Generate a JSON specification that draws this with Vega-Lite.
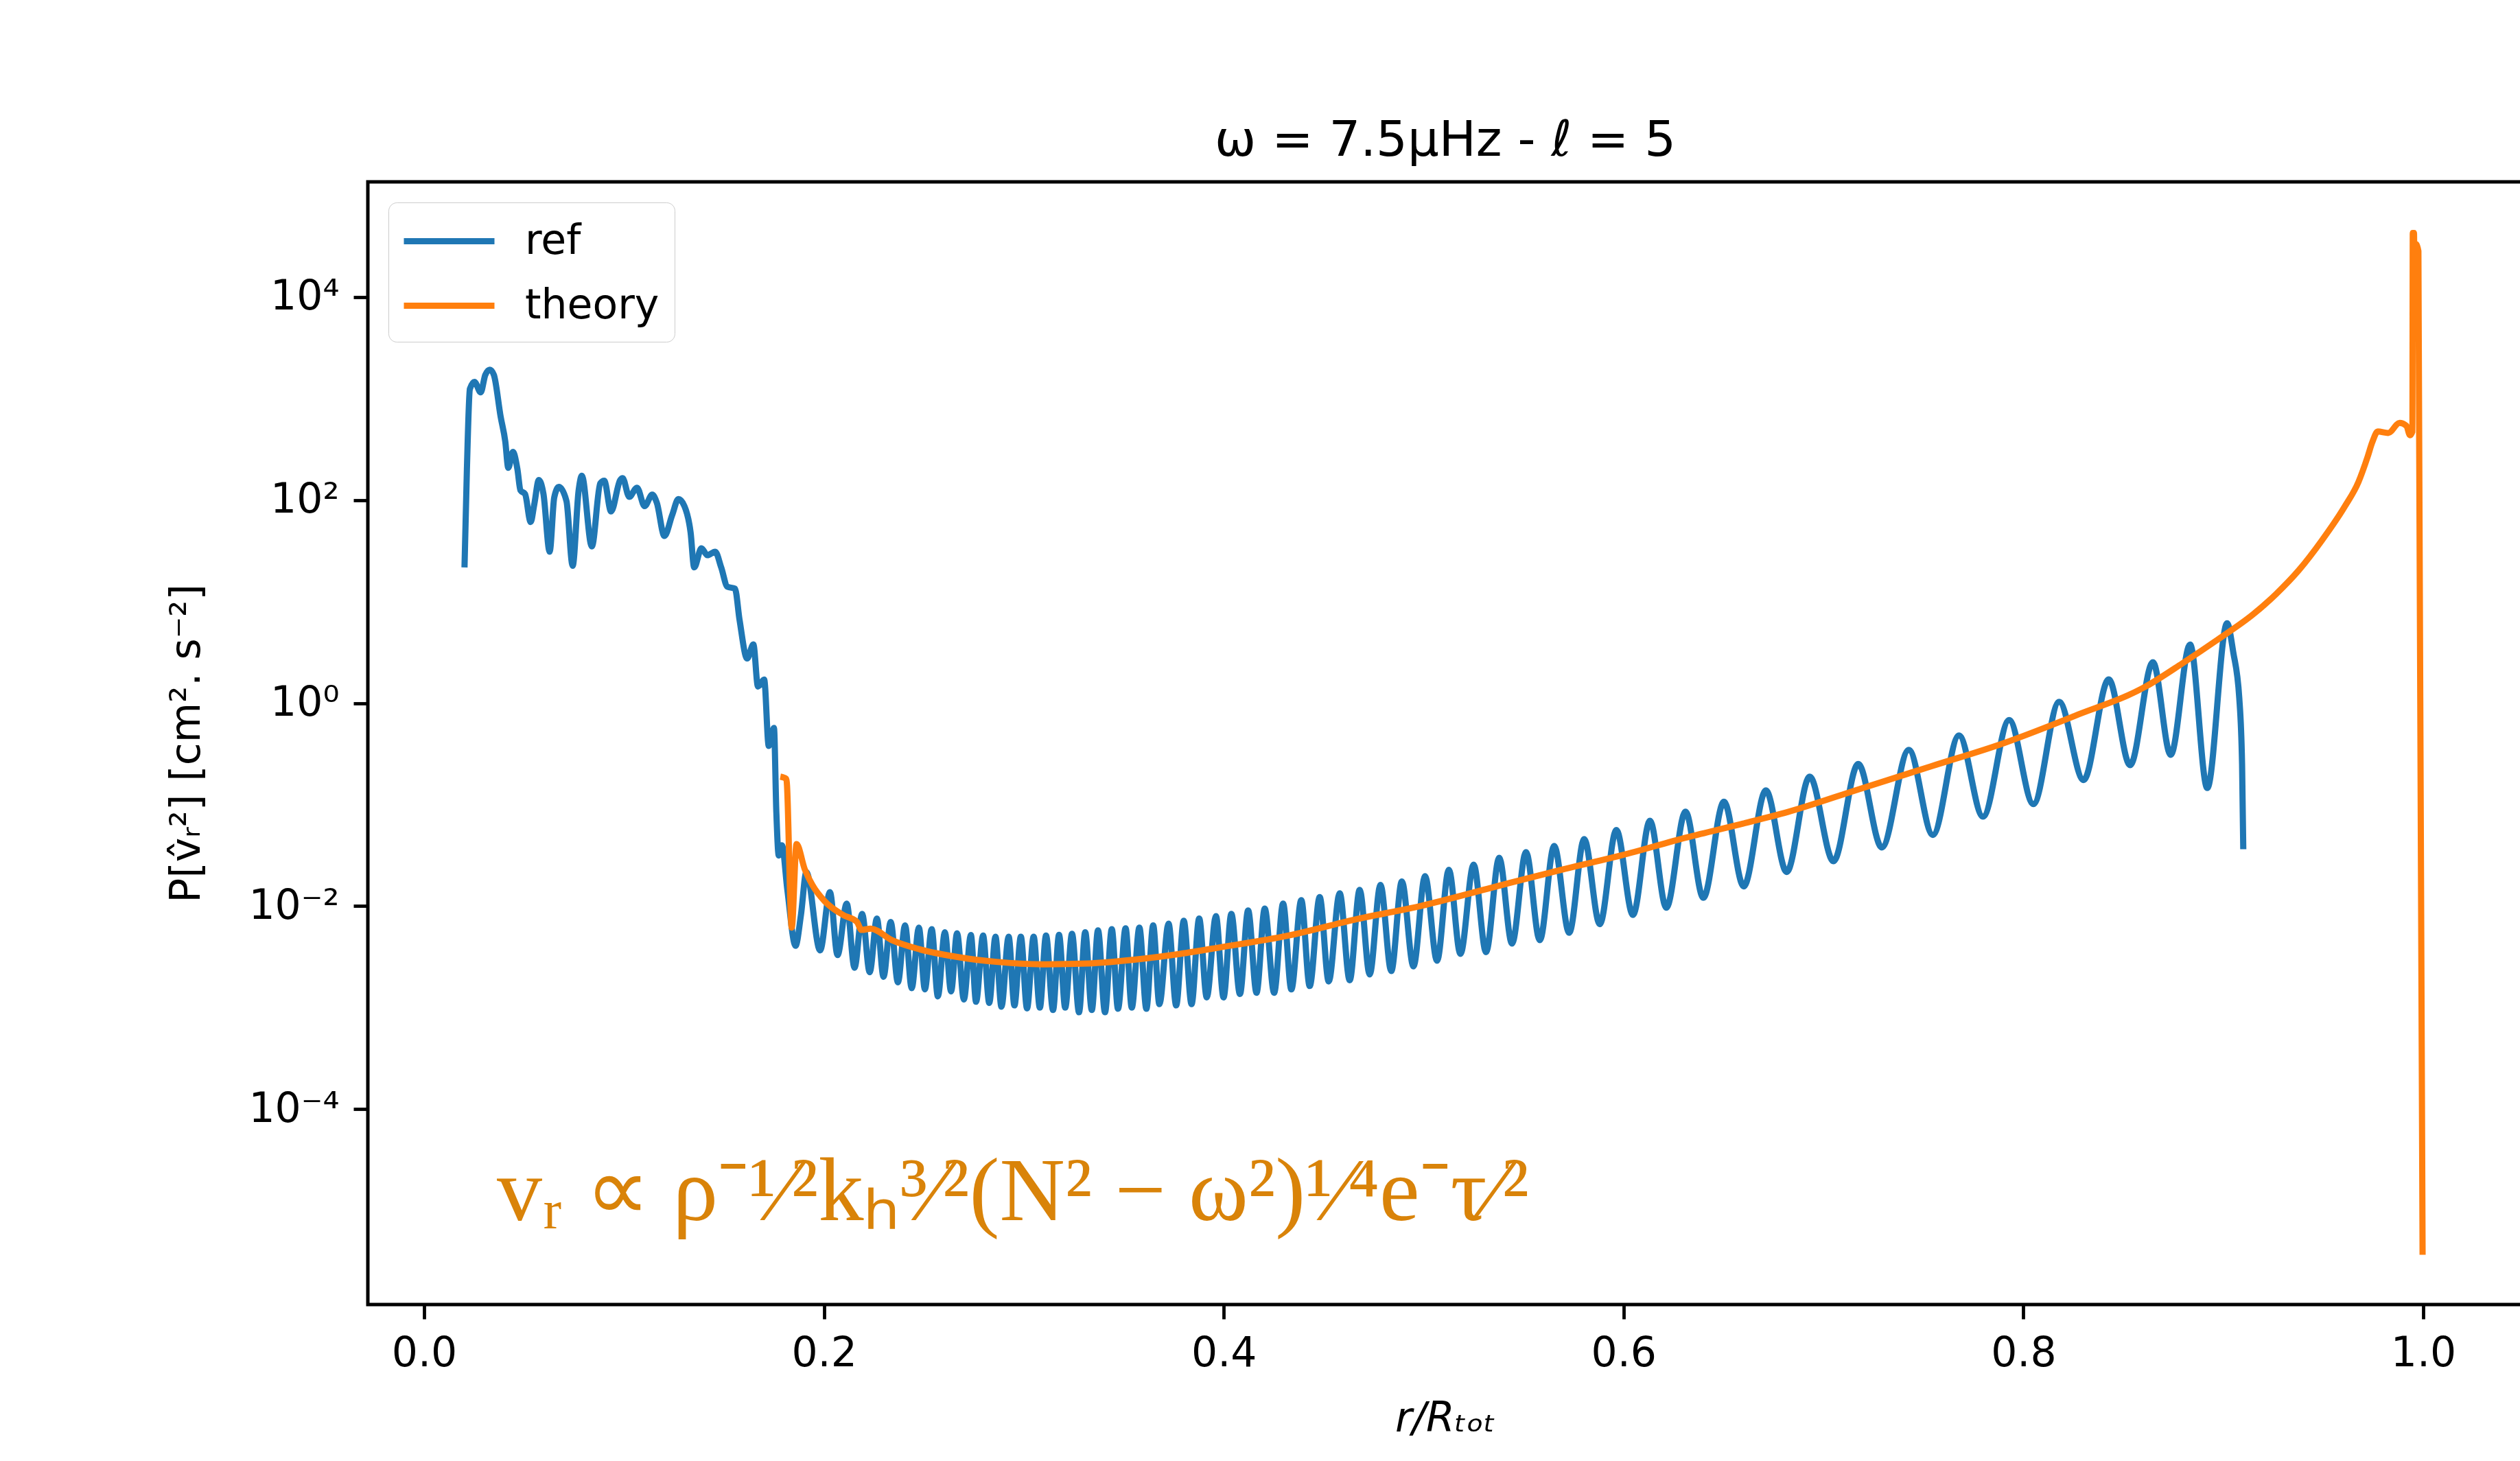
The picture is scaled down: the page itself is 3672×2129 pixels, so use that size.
{
  "$schema": "https://vega.github.io/schema/vega-lite/v6.json",
  "width": 3140,
  "height": 1636,
  "autosize": {"type": "none"},
  "padding": {"left": 536, "top": 265, "right": 0, "bottom": 228},
  "background": "white",
  "config": {
    "font": "DejaVu Sans",
    "view": {"stroke": "black", "strokeWidth": 5},
    "axis": {
      "grid": false,
      "domain": false,
      "tickColor": "black",
      "tickWidth": 4.8,
      "tickSize": 21,
      "labelFontSize": 60,
      "labelColor": "black",
      "labelFont": "DejaVu Sans",
      "labelPadding": 21,
      "titleFont": "DejaVu Sans",
      "titleFontSize": 60,
      "titleFontWeight": "normal",
      "titleColor": "black"
    }
  },
  "title": {
    "text": "ω = 7.5μHz - ℓ = 5",
    "font": "DejaVu Sans",
    "fontSize": 72,
    "fontWeight": "normal",
    "color": "black",
    "anchor": "middle",
    "baseline": "alphabetic",
    "offset": -34
  },
  "datasets": {
    "curves": [
      {"series": "ref", "r": 0.0202, "P": 21.7},
      {"series": "ref", "r": 0.0214, "P": 200},
      {"series": "ref", "r": 0.0229, "P": 1245},
      {"series": "ref", "r": 0.0252, "P": 1459},
      {"series": "ref", "r": 0.0283, "P": 1151},
      {"series": "ref", "r": 0.0306, "P": 1710},
      {"series": "ref", "r": 0.0329, "P": 1928},
      {"series": "ref", "r": 0.0349, "P": 1710},
      {"series": "ref", "r": 0.0383, "P": 659},
      {"series": "ref", "r": 0.0406, "P": 378},
      {"series": "ref", "r": 0.0421, "P": 208},
      {"series": "ref", "r": 0.0444, "P": 298},
      {"series": "ref", "r": 0.0467, "P": 200},
      {"series": "ref", "r": 0.0482, "P": 124.5},
      {"series": "ref", "r": 0.0505, "P": 114.8},
      {"series": "ref", "r": 0.0533, "P": 60.8},
      {"series": "ref", "r": 0.0551, "P": 90.6},
      {"series": "ref", "r": 0.0574, "P": 157.8},
      {"series": "ref", "r": 0.0597, "P": 114.8},
      {"series": "ref", "r": 0.0628, "P": 31.0},
      {"series": "ref", "r": 0.0651, "P": 106.2},
      {"series": "ref", "r": 0.0674, "P": 134.6},
      {"series": "ref", "r": 0.0712, "P": 97.9},
      {"series": "ref", "r": 0.0743, "P": 22.5},
      {"series": "ref", "r": 0.0773, "P": 124.5},
      {"series": "ref", "r": 0.0789, "P": 173.4},
      {"series": "ref", "r": 0.0839, "P": 34.9},
      {"series": "ref", "r": 0.0881, "P": 145.9},
      {"series": "ref", "r": 0.0901, "P": 155.2},
      {"series": "ref", "r": 0.0935, "P": 77.3},
      {"series": "ref", "r": 0.0981, "P": 157.8},
      {"series": "ref", "r": 0.0993, "P": 164.4},
      {"series": "ref", "r": 0.1026, "P": 107.6},
      {"series": "ref", "r": 0.1065, "P": 132.4},
      {"series": "ref", "r": 0.1103, "P": 87.1},
      {"series": "ref", "r": 0.1141, "P": 113.0},
      {"series": "ref", "r": 0.1164, "P": 94.2},
      {"series": "ref", "r": 0.1202, "P": 44.3},
      {"series": "ref", "r": 0.1241, "P": 71.3},
      {"series": "ref", "r": 0.1272, "P": 102.1},
      {"series": "ref", "r": 0.1302, "P": 87.1},
      {"series": "ref", "r": 0.1333, "P": 48.0},
      {"series": "ref", "r": 0.1351, "P": 21.7},
      {"series": "ref", "r": 0.1387, "P": 33.5},
      {"series": "ref", "r": 0.1417, "P": 28.6},
      {"series": "ref", "r": 0.1456, "P": 31.0},
      {"series": "ref", "r": 0.1486, "P": 21.7},
      {"series": "ref", "r": 0.1517, "P": 14.0},
      {"series": "ref", "r": 0.1555, "P": 13.4},
      {"series": "ref", "r": 0.1578, "P": 6.58},
      {"series": "ref", "r": 0.1616, "P": 2.75},
      {"series": "ref", "r": 0.1647, "P": 3.78},
      {"series": "ref", "r": 0.1670, "P": 1.455},
      {"series": "ref", "r": 0.1701, "P": 1.706},
      {"series": "ref", "r": 0.1724, "P": 0.378},
      {"series": "ref", "r": 0.1750, "P": 0.569},
      {"series": "ref", "r": 0.1762, "P": 0.0836},
      {"series": "ref", "r": 0.1774, "P": 0.0315},
      {"series": "ref", "r": 0.1790, "P": 0.0397},
      {"series": "ref", "r": 0.1817, "P": 0.01445},
      {"series": "ref", "r": 0.1858, "P": 0.00406},
      {"series": "ref", "r": 0.1885, "P": 0.00817},
      {"series": "ref", "r": 0.1912, "P": 0.0216},
      {"series": "ref", "r": 0.1981, "P": 0.00366},
      {"series": "ref", "r": 0.2030, "P": 0.01371},
      {"series": "ref", "r": 0.2068, "P": 0.00329},
      {"series": "ref", "r": 0.2114, "P": 0.01057},
      {"series": "ref", "r": 0.2153, "P": 0.00247},
      {"series": "ref", "r": 0.2191, "P": 0.00838},
      {"series": "ref", "r": 0.2229, "P": 0.00223},
      {"series": "ref", "r": 0.2265, "P": 0.00755},
      {"series": "ref", "r": 0.2298, "P": 0.00201},
      {"series": "ref", "r": 0.2334, "P": 0.00698},
      {"series": "ref", "r": 0.2370, "P": 0.00177},
      {"series": "ref", "r": 0.2406, "P": 0.00646},
      {"series": "ref", "r": 0.2439, "P": 0.00155},
      {"series": "ref", "r": 0.2475, "P": 0.00614},
      {"series": "ref", "r": 0.2505, "P": 0.00151},
      {"series": "ref", "r": 0.2539, "P": 0.00592},
      {"series": "ref", "r": 0.2570, "P": 0.00129},
      {"series": "ref", "r": 0.2605, "P": 0.00553},
      {"series": "ref", "r": 0.2636, "P": 0.00144},
      {"series": "ref", "r": 0.2666, "P": 0.00540},
      {"series": "ref", "r": 0.2700, "P": 0.00120},
      {"series": "ref", "r": 0.2735, "P": 0.00518},
      {"series": "ref", "r": 0.2761, "P": 0.00114},
      {"series": "ref", "r": 0.2796, "P": 0.00512},
      {"series": "ref", "r": 0.2827, "P": 0.00111},
      {"series": "ref", "r": 0.2858, "P": 0.00499},
      {"series": "ref", "r": 0.2888, "P": 0.00102},
      {"series": "ref", "r": 0.2924, "P": 0.00499},
      {"series": "ref", "r": 0.2953, "P": 0.00105},
      {"series": "ref", "r": 0.2985, "P": 0.00499},
      {"series": "ref", "r": 0.3016, "P": 0.000982},
      {"series": "ref", "r": 0.3049, "P": 0.00499},
      {"series": "ref", "r": 0.3080, "P": 0.000998},
      {"series": "ref", "r": 0.3111, "P": 0.00512},
      {"series": "ref", "r": 0.3146, "P": 0.000946},
      {"series": "ref", "r": 0.3176, "P": 0.00520},
      {"series": "ref", "r": 0.3207, "P": 0.000998},
      {"series": "ref", "r": 0.3241, "P": 0.00533},
      {"series": "ref", "r": 0.3276, "P": 0.000899},
      {"series": "ref", "r": 0.3307, "P": 0.00553},
      {"series": "ref", "r": 0.3340, "P": 0.000946},
      {"series": "ref", "r": 0.3371, "P": 0.00577},
      {"series": "ref", "r": 0.3406, "P": 0.000899},
      {"series": "ref", "r": 0.3440, "P": 0.00592},
      {"series": "ref", "r": 0.3471, "P": 0.000973},
      {"series": "ref", "r": 0.3509, "P": 0.00604},
      {"series": "ref", "r": 0.3540, "P": 0.000998},
      {"series": "ref", "r": 0.3578, "P": 0.00614},
      {"series": "ref", "r": 0.3613, "P": 0.000973},
      {"series": "ref", "r": 0.3647, "P": 0.00646},
      {"series": "ref", "r": 0.3678, "P": 0.00108},
      {"series": "ref", "r": 0.3724, "P": 0.00670},
      {"series": "ref", "r": 0.3762, "P": 0.00105},
      {"series": "ref", "r": 0.3800, "P": 0.00716},
      {"series": "ref", "r": 0.3839, "P": 0.00108},
      {"series": "ref", "r": 0.3877, "P": 0.00755},
      {"series": "ref", "r": 0.3915, "P": 0.00126},
      {"series": "ref", "r": 0.3961, "P": 0.00796},
      {"series": "ref", "r": 0.3999, "P": 0.00126},
      {"series": "ref", "r": 0.4038, "P": 0.00838},
      {"series": "ref", "r": 0.4081, "P": 0.00136},
      {"series": "ref", "r": 0.4122, "P": 0.00906},
      {"series": "ref", "r": 0.4164, "P": 0.00140},
      {"series": "ref", "r": 0.4205, "P": 0.00944},
      {"series": "ref", "r": 0.4252, "P": 0.00140},
      {"series": "ref", "r": 0.4297, "P": 0.01059},
      {"series": "ref", "r": 0.4338, "P": 0.00151},
      {"series": "ref", "r": 0.4388, "P": 0.01143},
      {"series": "ref", "r": 0.4430, "P": 0.00163},
      {"series": "ref", "r": 0.4480, "P": 0.01225},
      {"series": "ref", "r": 0.4525, "P": 0.00181},
      {"series": "ref", "r": 0.4580, "P": 0.01337},
      {"series": "ref", "r": 0.4630, "P": 0.00186},
      {"series": "ref", "r": 0.4680, "P": 0.01445},
      {"series": "ref", "r": 0.4730, "P": 0.00212},
      {"series": "ref", "r": 0.4784, "P": 0.01618},
      {"series": "ref", "r": 0.4838, "P": 0.00229},
      {"series": "ref", "r": 0.4891, "P": 0.01750},
      {"series": "ref", "r": 0.4949, "P": 0.00254},
      {"series": "ref", "r": 0.5007, "P": 0.01972},
      {"series": "ref", "r": 0.5067, "P": 0.00289},
      {"series": "ref", "r": 0.5126, "P": 0.02280},
      {"series": "ref", "r": 0.5184, "P": 0.00338},
      {"series": "ref", "r": 0.5250, "P": 0.02559},
      {"series": "ref", "r": 0.5312, "P": 0.00352},
      {"series": "ref", "r": 0.5378, "P": 0.02985},
      {"series": "ref", "r": 0.5442, "P": 0.00427},
      {"series": "ref", "r": 0.5512, "P": 0.03404},
      {"series": "ref", "r": 0.5581, "P": 0.00461},
      {"series": "ref", "r": 0.5653, "P": 0.03917},
      {"series": "ref", "r": 0.5728, "P": 0.00545},
      {"series": "ref", "r": 0.5803, "P": 0.04571},
      {"series": "ref", "r": 0.5881, "P": 0.00664},
      {"series": "ref", "r": 0.5964, "P": 0.05623},
      {"series": "ref", "r": 0.6047, "P": 0.00817},
      {"series": "ref", "r": 0.6132, "P": 0.06918},
      {"series": "ref", "r": 0.6214, "P": 0.00964},
      {"series": "ref", "r": 0.6310, "P": 0.08531},
      {"series": "ref", "r": 0.6399, "P": 0.01205},
      {"series": "ref", "r": 0.6502, "P": 0.1067},
      {"series": "ref", "r": 0.6601, "P": 0.01563},
      {"series": "ref", "r": 0.6712, "P": 0.1380},
      {"series": "ref", "r": 0.6816, "P": 0.02168},
      {"series": "ref", "r": 0.6931, "P": 0.1884},
      {"series": "ref", "r": 0.7050, "P": 0.02767},
      {"series": "ref", "r": 0.7174, "P": 0.2512},
      {"series": "ref", "r": 0.7292, "P": 0.03776},
      {"series": "ref", "r": 0.7427, "P": 0.3459},
      {"series": "ref", "r": 0.7547, "P": 0.05023},
      {"series": "ref", "r": 0.7678, "P": 0.4797},
      {"series": "ref", "r": 0.7798, "P": 0.07603},
      {"series": "ref", "r": 0.7929, "P": 0.6792},
      {"series": "ref", "r": 0.8050, "P": 0.1012},
      {"series": "ref", "r": 0.8179, "P": 1.028},
      {"series": "ref", "r": 0.8301, "P": 0.1746},
      {"series": "ref", "r": 0.8427, "P": 1.710},
      {"series": "ref", "r": 0.8534, "P": 0.2443},
      {"series": "ref", "r": 0.8648, "P": 2.523},
      {"series": "ref", "r": 0.8737, "P": 0.3090},
      {"series": "ref", "r": 0.8834, "P": 3.767},
      {"series": "ref", "r": 0.8920, "P": 0.1455},
      {"series": "ref", "r": 0.9019, "P": 6.109},
      {"series": "ref", "r": 0.9050, "P": 3.16},
      {"series": "ref", "r": 0.9080, "P": 1.12},
      {"series": "ref", "r": 0.9094, "P": 0.251},
      {"series": "ref", "r": 0.9100, "P": 0.0363},
      {"series": "theory", "r": 0.1782, "P": 0.1884},
      {"series": "theory", "r": 0.1812, "P": 0.1791},
      {"series": "theory", "r": 0.1839, "P": 0.00614},
      {"series": "theory", "r": 0.1863, "P": 0.04083},
      {"series": "theory", "r": 0.1904, "P": 0.02307},
      {"series": "theory", "r": 0.1943, "P": 0.01603},
      {"series": "theory", "r": 0.2004, "P": 0.01114},
      {"series": "theory", "r": 0.2096, "P": 0.00817},
      {"series": "theory", "r": 0.2165, "P": 0.00698},
      {"series": "theory", "r": 0.2188, "P": 0.00582},
      {"series": "theory", "r": 0.2234, "P": 0.00598},
      {"series": "theory", "r": 0.2341, "P": 0.00461},
      {"series": "theory", "r": 0.2479, "P": 0.00375},
      {"series": "theory", "r": 0.2678, "P": 0.00313},
      {"series": "theory", "r": 0.2862, "P": 0.00282},
      {"series": "theory", "r": 0.3092, "P": 0.00267},
      {"series": "theory", "r": 0.3322, "P": 0.00272},
      {"series": "theory", "r": 0.3552, "P": 0.00296},
      {"series": "theory", "r": 0.3782, "P": 0.00338},
      {"series": "theory", "r": 0.3989, "P": 0.00394},
      {"series": "theory", "r": 0.4322, "P": 0.00512},
      {"series": "theory", "r": 0.4655, "P": 0.00736},
      {"series": "theory", "r": 0.4987, "P": 0.01005},
      {"series": "theory", "r": 0.5320, "P": 0.01483},
      {"series": "theory", "r": 0.5653, "P": 0.02188},
      {"series": "theory", "r": 0.5986, "P": 0.03148},
      {"series": "theory", "r": 0.6319, "P": 0.04764},
      {"series": "theory", "r": 0.6598, "P": 0.06501},
      {"series": "theory", "r": 0.6820, "P": 0.08433},
      {"series": "theory", "r": 0.7179, "P": 0.1419},
      {"series": "theory", "r": 0.7538, "P": 0.2382},
      {"series": "theory", "r": 0.7897, "P": 0.3999},
      {"series": "theory", "r": 0.8256, "P": 0.7464},
      {"series": "theory", "r": 0.8615, "P": 1.466},
      {"series": "theory", "r": 0.8795, "P": 2.460},
      {"series": "theory", "r": 0.8974, "P": 4.246},
      {"series": "theory", "r": 0.9150, "P": 7.5},
      {"series": "theory", "r": 0.9264, "P": 11.86},
      {"series": "theory", "r": 0.9379, "P": 20.5},
      {"series": "theory", "r": 0.9493, "P": 40.0},
      {"series": "theory", "r": 0.9607, "P": 86.0},
      {"series": "theory", "r": 0.9676, "P": 150.3},
      {"series": "theory", "r": 0.9722, "P": 266.7},
      {"series": "theory", "r": 0.9745, "P": 369.8},
      {"series": "theory", "r": 0.9773, "P": 473.2},
      {"series": "theory", "r": 0.9825, "P": 458.1},
      {"series": "theory", "r": 0.9882, "P": 575.4},
      {"series": "theory", "r": 0.9916, "P": 539.5},
      {"series": "theory", "r": 0.9934, "P": 435.5},
      {"series": "theory", "r": 0.9946, "P": 473.2},
      {"series": "theory", "r": 0.9948, "P": 42850},
      {"series": "theory", "r": 0.9954, "P": 42850},
      {"series": "theory", "r": 0.9957, "P": 6516},
      {"series": "theory", "r": 0.9962, "P": 33500},
      {"series": "theory", "r": 0.9976, "P": 28440},
      {"series": "theory", "r": 0.9997, "P": 0.00000366}
    ]
  },
  "encoding": {
    "x": {
      "field": "r",
      "type": "quantitative",
      "scale": {"domain": [-0.02815, 1.0498], "nice": false, "zero": false},
      "axis": {
        "values": [0, 0.2, 0.4, 0.6, 0.8, 1.0],
        "format": ".1f",
        "title": "r/Rₜₒₜ",
        "titleFontStyle": "italic",
        "titlePadding": 36
      }
    },
    "y": {
      "field": "P",
      "type": "quantitative",
      "scale": {"type": "log", "domain": [0.000001186, 136500], "nice": false},
      "axis": {
        "values": [0.0001, 0.01, 1, 100, 10000],
        "labelExpr": "datum.value >= 5000 ? '10⁴' : datum.value >= 50 ? '10²' : datum.value >= 0.5 ? '10⁰' : datum.value >= 0.005 ? '10⁻²' : '10⁻⁴'",
        "title": "P[v̂ᵣ²] [cm². s⁻²]",
        "titlePadding": 58
      }
    }
  },
  "layer": [
    {
      "data": {"name": "curves"},
      "mark": {"type": "line", "strokeWidth": 9, "interpolate": "monotone", "strokeJoin": "round", "clip": true},
      "encoding": {
        "color": {
          "field": "series",
          "type": "nominal",
          "scale": {"domain": ["ref", "theory"], "range": ["#1f77b4", "#ff7f0e"]},
          "legend": {
            "title": null,
            "orient": "top-left",
            "offset": 30,
            "fillColor": "rgba(255,255,255,0.8)",
            "strokeColor": "#cccccc",
            "cornerRadius": 12,
            "padding": 22,
            "symbolType": "M-2.2,0H2.2",
            "symbolStrokeWidth": 9,
            "symbolSize": 3600,
            "symbolOffset": 32,
            "labelFont": "DejaVu Sans",
            "labelFontSize": 60,
            "labelColor": "black",
            "labelOffset": 76,
            "labelLimit": 1000,
            "rowPadding": 29
          }
        }
      }
    },
    {
      "data": {"values": [{"r": 0.0364, "P": 0.0000081, "label": "vᵣ ∝ ρ⁻¹⁄²kₕ³⁄²(N² − ω²)¹⁄⁴e⁻τ⁄²"}]},
      "mark": {"type": "text", "font": "Liberation Serif", "fontSize": 132, "color": "#d98309", "align": "left", "baseline": "alphabetic"},
      "encoding": {"text": {"field": "label"}}
    }
  ]
}
